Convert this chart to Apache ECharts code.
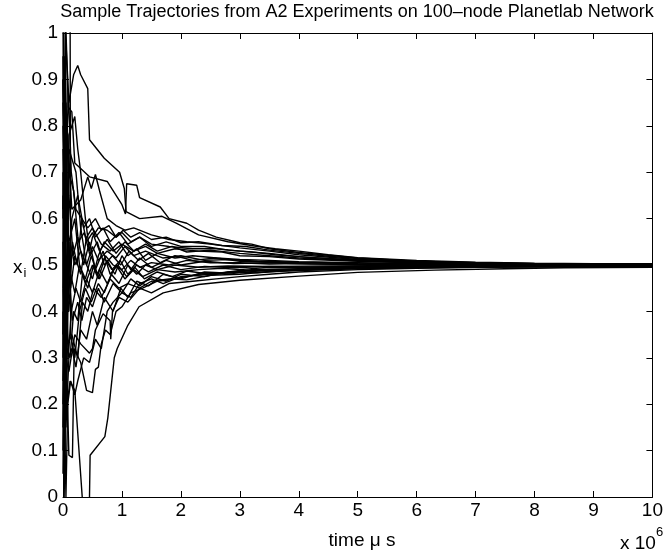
<!DOCTYPE html>
<html>
<head>
<meta charset="utf-8">
<script src="https://cdn.jsdelivr.net/npm/echarts@6/dist/echarts.min.js"></script>
<style>
html,body{margin:0;padding:0;background:#fff;}
#chart{width:666px;height:553px;}
</style>
</head>
<body>
<div id="chart"></div>
<script>
// time values in units of 10^6 microseconds, values x_i
const titleText = "Sample Trajectories from A2 Experiments on 100\u2013node Planetlab Network";
const xTicks = [0,1,2,3,4,5,6,7,8,9,10];
const yTicks = [0,0.1,0.2,0.3,0.4,0.5,0.6,0.7,0.8,0.9,1];

const traj01 = [[0,0.62],[0.05,0.98],[0.1,0.85],[0.18,0.91],[0.25,0.93],[0.3,0.91],[0.42,0.88],[0.45,0.77],[0.7,0.73],[0.96,0.70],[1.04,0.665],[1.07,0.615],[1.3,0.6],[1.68,0.605],[1.92,0.59],[2.3,0.565],[2.8,0.55],[3.3,0.54],[3.6,0.535],[4,0.53],[4.5,0.522],[5,0.516],[6,0.51],[7,0.506],[8,0.504],[9,0.503],[10,0.502]];
const traj02 = [[0,0.3],[0.04,1.05],[0.09,0.84],[0.15,0.83],[0.2,0.72],[0.45,0.69],[0.75,0.68],[1.0,0.63],[1.06,0.61],[1.08,0.675],[1.25,0.672],[1.3,0.645],[1.65,0.625],[1.8,0.6],[2.1,0.59],[2.3,0.575],[2.6,0.56],[3,0.548],[3.2,0.545],[3.5,0.535],[4,0.527],[4.6,0.52],[5,0.515],[6,0.508],[7,0.505],[8,0.503],[10,0.502]];
const traj03 = [[0,0.45],[0.07,0.8],[0.15,0.62],[0.3,0.64],[0.42,0.69],[0.48,0.665],[0.55,0.695],[0.62,0.66],[0.75,0.6],[0.9,0.585],[1.05,0.575],[1.2,0.58],[1.5,0.565],[1.8,0.555],[2.1,0.55],[2.5,0.545],[3,0.537],[3.5,0.53],[4,0.522],[5,0.512],[6,0.507],[7,0.504],[8.5,0.502],[10,0.501]];
const traj04 = [[0,0.7],[0.06,0.2],[0.1,0.78],[0.2,0.82],[0.25,0.75],[0.3,0.7],[0.38,0.6],[0.45,0.53],[0.5,0.56],[0.6,0.58],[0.75,0.575],[0.9,0.56],[1.0,0.57],[1.15,0.55],[1.3,0.56],[1.5,0.545],[1.8,0.54],[2.2,0.535],[2.6,0.535],[3,0.53],[3.5,0.525],[4,0.518],[5,0.51],[6,0.505],[7,0.503],[8,0.502],[10,0.5]];
const traj05 = [[0,0.9],[0.05,0.55],[0.1,0.75],[0.22,0.7],[0.3,0.58],[0.4,0.5],[0.5,0.47],[0.6,0.52],[0.7,0.55],[0.85,0.53],[1.0,0.545],[1.2,0.53],[1.4,0.54],[1.6,0.525],[1.9,0.535],[2.3,0.53],[2.7,0.528],[3,0.52],[3.5,0.518],[4,0.513],[5,0.508],[6,0.505],[7,0.503],[8,0.501],[10,0.499]];
const traj06 = [[0,0.15],[0.04,0.95],[0.08,0.6],[0.13,0.45],[0.2,0.52],[0.3,0.48],[0.4,0.56],[0.5,0.58],[0.65,0.545],[0.8,0.53],[0.95,0.55],[1.1,0.52],[1.25,0.535],[1.4,0.51],[1.6,0.525],[1.9,0.515],[2.2,0.52],[2.6,0.515],[3,0.512],[3.5,0.51],[4,0.507],[5,0.505],[6,0.503],[7,0.502],[8.5,0.5],[10,0.499]];
const traj07 = [[0,0.8],[0.05,0.4],[0.1,0.55],[0.2,0.6],[0.28,0.5],[0.38,0.46],[0.5,0.5],[0.6,0.47],[0.72,0.52],[0.85,0.5],[1.0,0.49],[1.15,0.51],[1.3,0.495],[1.5,0.505],[1.8,0.5],[2.1,0.51],[2.5,0.505],[3,0.505],[3.5,0.502],[4,0.503],[5,0.501],[6,0.5],[7.5,0.499],[10,0.498]];
const traj08 = [[0,0.35],[0.04,0.62],[0.09,0.3],[0.14,0.4],[0.22,0.45],[0.3,0.42],[0.4,0.47],[0.5,0.44],[0.62,0.49],[0.75,0.46],[0.9,0.5],[1.05,0.47],[1.2,0.49],[1.35,0.475],[1.6,0.49],[1.9,0.485],[2.3,0.49],[2.7,0.493],[3,0.49],[3.5,0.495],[4,0.494],[5,0.496],[6,0.497],[7,0.497],[8.5,0.497],[10,0.497]];
const traj09 = [[0,0.05],[0.03,0.5],[0.08,0.33],[0.15,0.35],[0.25,0.3],[0.33,0.42],[0.42,0.4],[0.52,0.45],[0.65,0.43],[0.8,0.47],[0.95,0.45],[1.1,0.46],[1.3,0.45],[1.5,0.465],[1.8,0.47],[2.1,0.468],[2.5,0.478],[3,0.48],[3.5,0.486],[4,0.488],[5,0.492],[6,0.494],[7,0.495],[8,0.496],[10,0.496]];
const traj10 = [[0,0.5],[0.05,0.18],[0.12,0.25],[0.2,0.23],[0.37,-0.08],[0.44,-0.08],[0.46,0.09],[0.71,0.13],[0.76,0.17],[0.87,0.3],[0.92,0.32],[1.1,0.37],[1.29,0.41],[1.7,0.44],[2.3,0.458],[3,0.467],[4,0.476],[5,0.484],[6.3,0.489],[7.5,0.492],[8.5,0.494],[10,0.495]];
const traj11 = [[0,0.85],[0.05,0.3],[0.1,0.27],[0.2,0.35],[0.3,0.33],[0.45,0.31],[0.5,0.32],[0.55,0.36],[0.68,0.395],[0.8,0.38],[0.81,0.34],[0.84,0.4],[0.95,0.43],[1.1,0.42],[1.3,0.45],[1.5,0.44],[1.8,0.46],[2.2,0.465],[2.6,0.47],[3,0.475],[3.5,0.48],[4,0.485],[5,0.49],[6,0.493],[7,0.495],[8,0.496],[10,0.497]];
const traj12 = [[0,0.55],[0.06,0.28],[0.1,0.09],[0.16,0.085],[0.19,0.32],[0.3,0.29],[0.4,0.23],[0.5,0.225],[0.55,0.275],[0.6,0.28],[0.65,0.33],[0.72,0.36],[0.8,0.35],[0.9,0.4],[1.0,0.41],[1.15,0.44],[1.35,0.45],[1.6,0.465],[1.9,0.47],[2.3,0.48],[2.8,0.483],[3.2,0.49],[4,0.492],[5,0.494],[6,0.496],[7,0.497],[10,0.497]];
const traj13 = [[0,0.4],[0.05,0.0],[0.08,0.2],[0.13,0.25],[0.2,0.22],[0.25,0.25],[0.35,0.3],[0.45,0.29],[0.55,0.34],[0.65,0.32],[0.75,0.4],[0.85,0.42],[1.0,0.44],[1.15,0.43],[1.3,0.46],[1.5,0.47],[1.7,0.46],[2.0,0.475],[2.5,0.48],[3,0.486],[3.5,0.49],[4,0.49],[5,0.495],[6,0.497],[7,0.498],[10,0.498]];
const traj14 = [[0,1.05],[0.03,0.1],[0.07,0.35],[0.12,0.55],[0.2,0.5],[0.3,0.53],[0.4,0.5],[0.5,0.54],[0.6,0.51],[0.75,0.53],[0.9,0.515],[1.05,0.54],[1.2,0.52],[1.4,0.53],[1.7,0.515],[2,0.52],[2.4,0.51],[2.8,0.512],[3.3,0.508],[4,0.506],[5,0.504],[6,0.502],[7,0.501],[8.5,0.5],[10,0.5]];
const traj15 = [[0,0.5],[0.05,1.1],[0.12,1.1],[0.13,0.35],[0.2,0.3],[0.28,0.4],[0.38,0.45],[0.48,0.42],[0.6,0.46],[0.7,0.44],[0.82,0.48],[0.95,0.46],[1.1,0.5],[1.25,0.48],[1.4,0.5],[1.6,0.49],[1.9,0.5],[2.3,0.495],[2.8,0.498],[3.5,0.497],[4.5,0.498],[6,0.499],[8,0.499],[10,0.499]];
const traj16 = [[0,0.6],[0.03,0.95],[0.08,0.45],[0.15,0.6],[0.25,0.65],[0.35,0.58],[0.45,0.6],[0.55,0.56],[0.68,0.58],[0.8,0.55],[0.95,0.57],[1.1,0.545],[1.3,0.56],[1.5,0.54],[1.75,0.55],[2,0.54],[2.4,0.54],[2.8,0.532],[3.2,0.528],[3.6,0.522],[4.2,0.516],[5,0.511],[6,0.506],[7,0.504],[8,0.502],[10,0.501]];
const traj17 = [[0,0.25],[0.04,0.7],[0.09,0.5],[0.16,0.38],[0.25,0.42],[0.32,0.38],[0.4,0.43],[0.5,0.41],[0.6,0.45],[0.7,0.42],[0.85,0.46],[1.0,0.44],[1.15,0.47],[1.3,0.455],[1.5,0.475],[1.75,0.465],[2,0.48],[2.4,0.475],[2.8,0.485],[3.3,0.483],[4,0.489],[5,0.493],[6,0.495],[7,0.496],[8.5,0.496],[10,0.496]];
const traj18 = [[0,0.75],[0.05,0.15],[0.1,0.3],[0.15,0.32],[0.22,0.28],[0.3,0.36],[0.4,0.34],[0.5,0.4],[0.58,0.37],[0.7,0.43],[0.85,0.4],[0.98,0.45],[1.1,0.43],[1.25,0.465],[1.45,0.455],[1.7,0.48],[2,0.47],[2.4,0.485],[2.9,0.482],[3.4,0.488],[4,0.49],[5,0.494],[6,0.496],[7,0.497],[10,0.498]];
const traj19 = [[0,0.95],[0.04,0.3],[0.1,0.7],[0.18,0.66],[0.26,0.55],[0.36,0.57],[0.46,0.52],[0.58,0.55],[0.7,0.5],[0.84,0.52],[0.98,0.5],[1.12,0.53],[1.28,0.51],[1.45,0.525],[1.65,0.505],[1.9,0.52],[2.2,0.51],[2.6,0.515],[3,0.508],[3.5,0.506],[4,0.505],[5,0.503],[6,0.502],[7.5,0.501],[10,0.5]];
const traj20 = [[0,0.2],[0.05,0.85],[0.1,0.65],[0.17,0.52],[0.25,0.56],[0.35,0.5],[0.45,0.55],[0.55,0.49],[0.68,0.53],[0.8,0.48],[0.93,0.5],[1.08,0.475],[1.22,0.495],[1.38,0.47],[1.6,0.485],[1.85,0.475],[2.1,0.487],[2.5,0.48],[3,0.488],[3.5,0.487],[4,0.491],[5,0.494],[6,0.496],[7,0.497],[8,0.497],[10,0.497]];
const traj21 = [[0,0.45],[0.03,0.15],[0.07,0.32],[0.12,0.3],[0.18,0.4],[0.25,0.38],[0.33,0.48],[0.42,0.45],[0.52,0.5],[0.62,0.47],[0.75,0.51],[0.88,0.48],[1.0,0.52],[1.15,0.49],[1.3,0.515],[1.5,0.495],[1.75,0.51],[2,0.5],[2.4,0.508],[2.9,0.503],[3.5,0.505],[4.2,0.502],[5,0.501],[6.5,0.5],[10,0.499]];
const traj22 = [[0,0.9],[0.04,0.6],[0.09,0.88],[0.14,0.7],[0.22,0.62],[0.32,0.6],[0.42,0.58],[0.55,0.6],[0.65,0.575],[0.78,0.585],[0.9,0.56],[1.02,0.575],[1.15,0.56],[1.3,0.57],[1.5,0.555],[1.75,0.56],[2,0.548],[2.3,0.55],[2.7,0.542],[3.1,0.54],[3.5,0.532],[4,0.525],[4.5,0.519],[5,0.514],[6,0.508],[7,0.505],[8,0.503],[10,0.502]];
const traj23 = [[0,0.1],[0.03,0.55],[0.07,0.42],[0.13,0.48],[0.2,0.44],[0.28,0.5],[0.38,0.47],[0.48,0.52],[0.58,0.48],[0.7,0.515],[0.83,0.49],[0.97,0.51],[1.1,0.48],[1.25,0.5],[1.45,0.485],[1.7,0.5],[2,0.49],[2.4,0.497],[2.9,0.494],[3.5,0.497],[4.2,0.496],[5,0.497],[6,0.498],[8,0.498],[10,0.498]];
const traj24 = [[0,0.65],[0.02,0.0],[0.06,0.45],[0.1,0.4],[0.16,0.55],[0.24,0.5],[0.32,0.6],[0.4,0.55],[0.5,0.57],[0.62,0.53],[0.75,0.555],[0.9,0.525],[1.05,0.55],[1.2,0.53],[1.4,0.545],[1.6,0.53],[1.85,0.54],[2.1,0.528],[2.5,0.532],[3,0.525],[3.5,0.52],[4,0.515],[5,0.509],[6,0.505],[7,0.503],[8,0.502],[10,0.501]];

const trajectories = [traj01,traj02,traj03,traj04,traj05,traj06,traj07,traj08,traj09,traj10,traj11,traj12,
  traj13,traj14,traj15,traj16,traj17,traj18,traj19,traj20,traj21,traj22,traj23,traj24];

const FONT = "'Liberation Sans', Arial, Helvetica, sans-serif";
const chart = echarts.init(document.getElementById('chart'), null, {renderer:'canvas'});

const baseX = {
  type:'value', min:0, max:10, interval:1,
  axisLine:{show:true, onZero:false, lineStyle:{color:'#000', width:1}},
  axisTick:{show:true, inside:true, length:6, lineStyle:{color:'#000'}},
  splitLine:{show:false}
};
const baseY = {
  type:'value', min:0, max:1, interval:0.1,
  axisLine:{show:true, onZero:false, lineStyle:{color:'#000', width:1}},
  axisTick:{show:true, inside:true, length:6, lineStyle:{color:'#000'}},
  splitLine:{show:false}
};

const option = {
  animation:false,
  backgroundColor:'#fff',
  grid:{left:63, right:8, top:33, bottom:56, containLabel:false},
  xAxis:[
    Object.assign({}, baseX, {position:'bottom',
      axisLabel:{show:true, color:'#000', fontFamily:FONT, fontSize:19, margin:4,
        formatter:function(v){return xTicks.indexOf(v)>=0 ? String(v) : '';}}}),
    Object.assign({}, baseX, {position:'top', axisLabel:{show:false}})
  ],
  yAxis:[
    Object.assign({}, baseY, {position:'left',
      axisLabel:{show:true, color:'#000', fontFamily:FONT, fontSize:19, margin:5,
        formatter:function(v){
          const r = Math.round(v*10)/10;
          return String(r);
        }}}),
    Object.assign({}, baseY, {position:'right', axisLabel:{show:false}})
  ],
  graphic:[
    {type:'text', x:357, y:3, style:{text:titleText, font:'18px '+FONT, fill:'#000', textAlign:'center'}},
    {type:'text', x:362, y:531, style:{text:'time \u03bc s', font:'19px '+FONT, fill:'#000', textAlign:'center'}},
    {type:'text', x:620, y:526, style:{
      text:'{a|x 10}{b|6}', fill:'#000',
      rich:{a:{font:'19px '+FONT, fill:'#000', padding:[8,0,0,0]}, b:{font:'13px '+FONT, fill:'#000', verticalAlign:'top'}}
    }},
    {type:'text', x:13, y:255, style:{
      text:'{a|x}{b|i}', fill:'#000',
      rich:{a:{font:'19px '+FONT, fill:'#000'}, b:{font:'13px '+FONT, fill:'#000', padding:[12,0,0,1]}}
    }}
  ],
  series: trajectories.map(function(d){
    return {type:'line', data:d, symbol:'none', showSymbol:false, clip:true,
      lineStyle:{color:'#000', width:1.4}, xAxisIndex:0, yAxisIndex:0, silent:true};
  })
};
chart.setOption(option);
</script>
</body>
</html>
